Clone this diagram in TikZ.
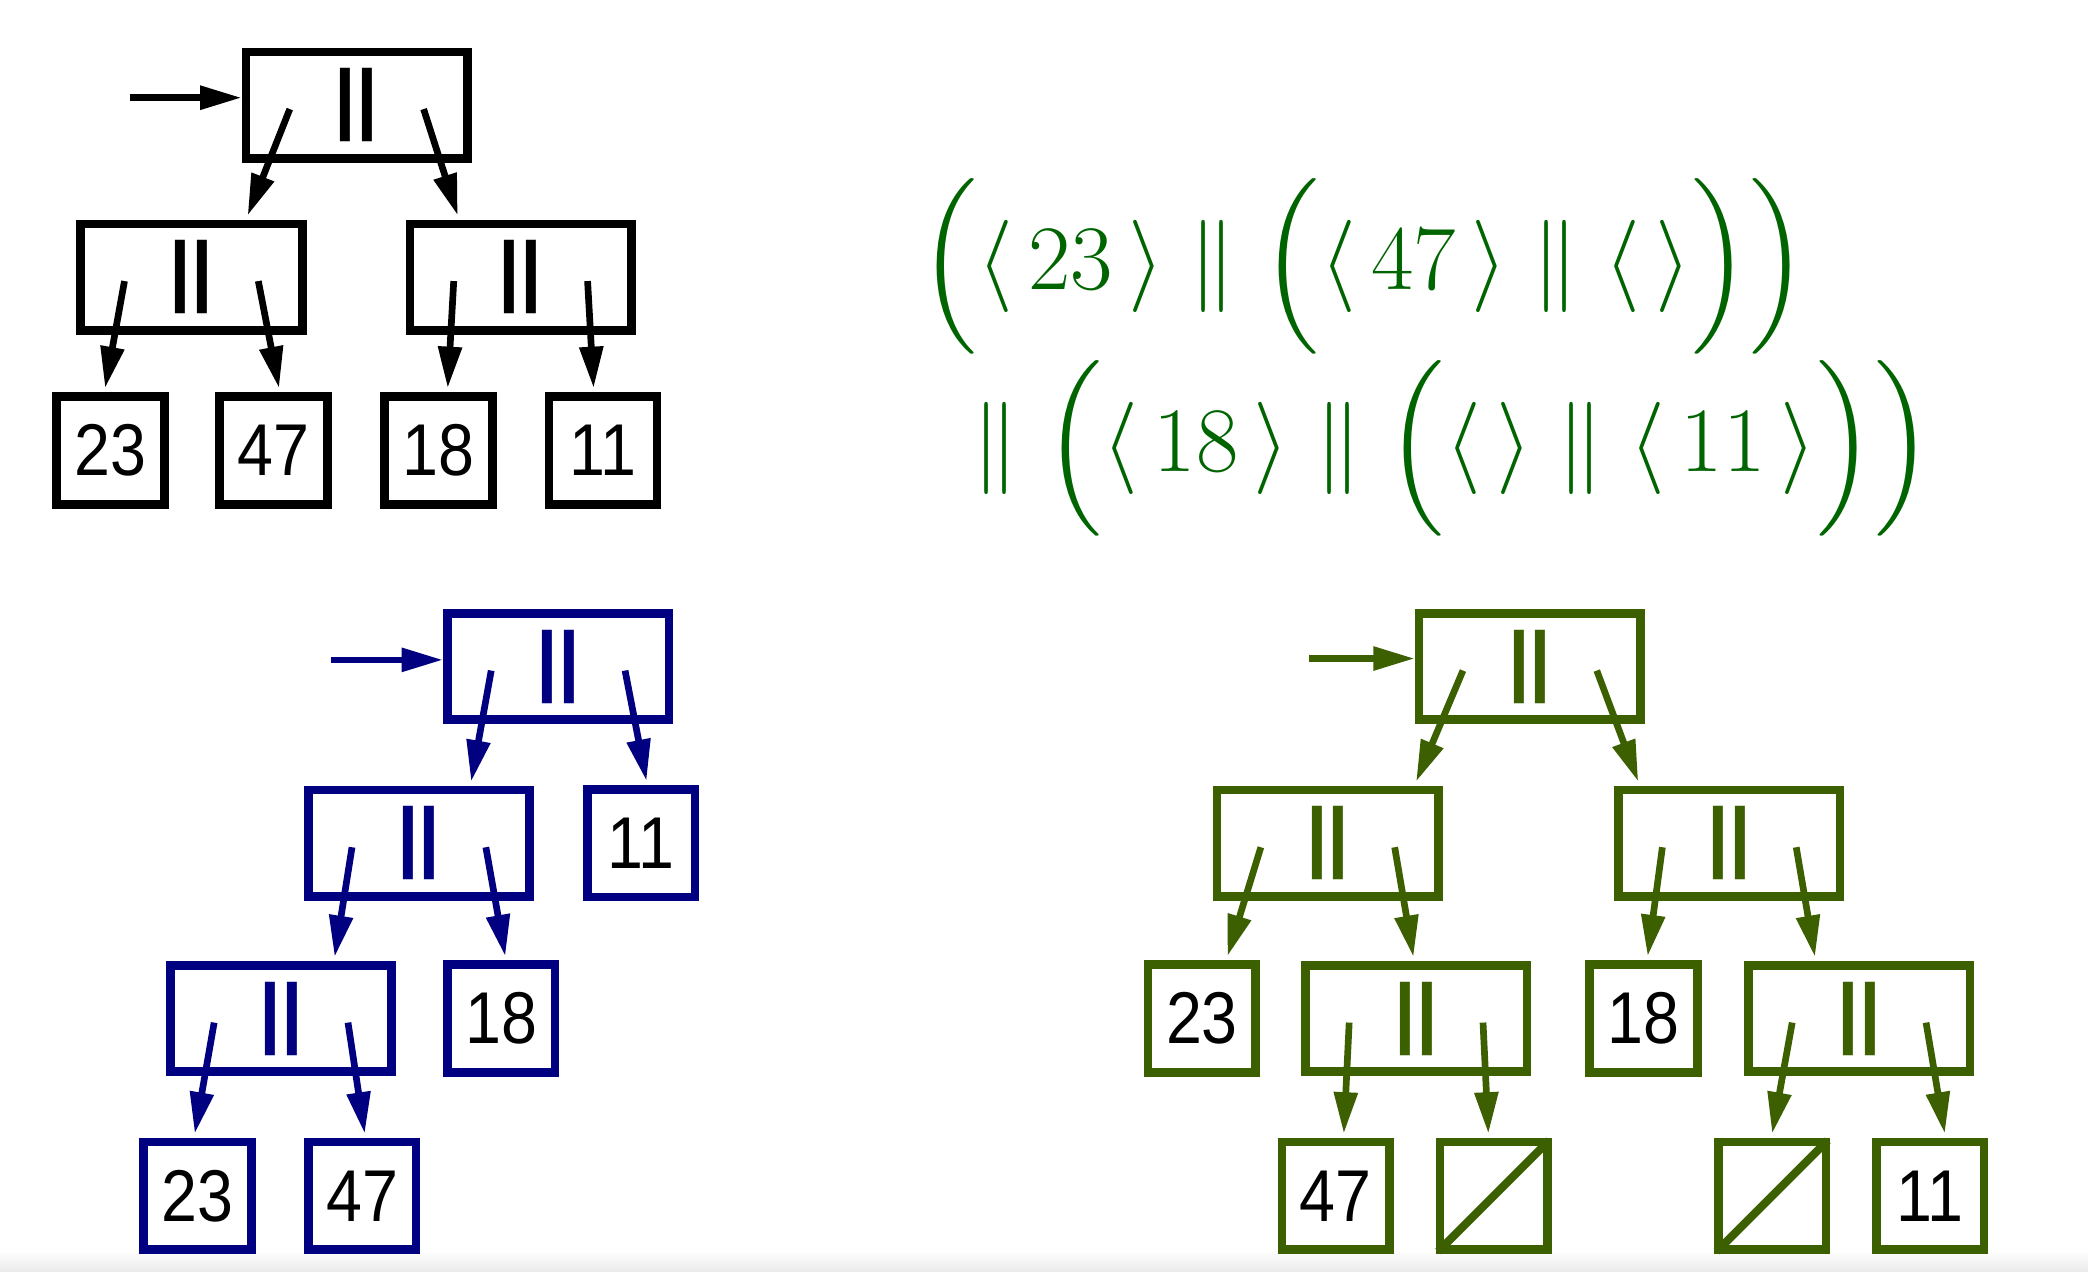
\documentclass[tikz,border=0pt]{standalone}
\usepackage{fix-cm}
\usepackage{amsmath}
\usepackage{fontspec}
\newfontfamily\boxfont[FakeStretch=0.88]{Liberation Sans}
\newfontfamily\barfont{Liberation Sans}
\usetikzlibrary{arrows.meta}
\definecolor{nblue}{RGB}{0,0,128}
\definecolor{ngreen}{RGB}{60,95,0}
\definecolor{fgreen}{RGB}{0,100,0}
\tikzset{
  catbox/.style={draw, line width=0.65mm, minimum width=16.55mm, minimum height=7.95mm,
    inner sep=0pt, font={\barfont\bfseries\fontsize{16.5}{18}\selectfont}},
  leafbox/.style={draw, line width=0.65mm, minimum width=8.05mm, minimum height=8.05mm,
    inner sep=0pt, text=black, font={\boxfont\fontsize{15.6}{18}\selectfont}},
  ptr/.style={line width=0.5mm, -{Triangle[length=3.1mm,width=1.7mm]}},
  formula/.style={fgreen, anchor=base west, inner sep=0pt,
    font={\fontsize{19.6}{24}\selectfont}},
}
\begin{document}
\begin{tikzpicture}[x=0.1mm,y=-0.1mm]
\fill[white] (0,0) rectangle (1560,950.3);
\shade[top color=white, bottom color=black!8] (0,934) rectangle (1560,950.3);

% the sequence as a balanced tree
\node[catbox] (kT) at (266.5,78.5) {||};
\node[catbox] (kL) at (143,207) {||};
\node[catbox] (kR) at (389,207) {||};
\foreach \n/\x in {23/82.5,47/204.5,18/327.5,11/450.5}
  \node[leafbox] (k\n) at (\x,336.5) {\n};
\coordinate (kin) at (97,73);
\draw[ptr] (kin) -- (kin -| kT.west);
\foreach \p/\c/\d in {kT/kL/42,kL/k23/-4,kR/k18/7}
  \draw[ptr] ([shift={(36,46)}]\p.north west) -- ([shift={(\d,-3)}]\c.north);
\foreach \p/\c/\d in {kT/kR/-47,kL/k47/4,kR/k11/-7}
  \draw[ptr] ([shift={(-36,46)}]\p.north east) -- ([shift={(\d,-3)}]\c.north);

% the same sequence, leaning left
\begin{scope}[nblue]
\node[catbox] (bT) at (417,498) {||};
\node[catbox] (bM) at (313,630) {||};
\node[catbox] (bL) at (210,761) {||};
\node[leafbox] (b11) at (479,630) {11};
\node[leafbox] (b18) at (374.5,761) {18};
\node[leafbox] (b23) at (147.5,893.5) {23};
\node[leafbox] (b47) at (270.5,893.5) {47};
\coordinate (bin) at (247,493);
\draw[ptr] (bin) -- (bin -| bT.west);
\foreach \p/\c/\d in {bT/bM/39,bM/bL/40,bL/b23/-2}
  \draw[ptr] ([shift={(36,46)}]\p.north west) -- ([shift={(\d,-3)}]\c.north);
\foreach \p/\c/\d in {bT/b11/4,bM/b18/3,bL/b47/2}
  \draw[ptr] ([shift={(-36,46)}]\p.north east) -- ([shift={(\d,-3)}]\c.north);
\end{scope}

% the formula
\node[formula] (f1) at (686,216)
  {$\Big(\langle\,23\,\rangle \parallel \Big(\langle\,47\,\rangle \parallel \langle\,\rangle\Big)\Big)$};
\node[formula] (f2) at (726,352)
  {$\parallel \Big(\langle\,18\,\rangle \parallel \Big(\langle\,\rangle \parallel \langle\,11\,\rangle\Big)\Big)$};

% the tree of the formula, with empty leaves
\begin{scope}[ngreen]
\node[catbox] (gT) at (1143,498) {||};
\node[catbox] (gL) at (992,630) {||};
\node[catbox] (gR) at (1292,630) {||};
\node[catbox] (gLR) at (1058,761) {||};
\node[catbox] (gRR) at (1389,761) {||};
\node[leafbox] (g23) at (898,761) {23};
\node[leafbox] (g18) at (1228,761) {18};
\node[leafbox] (g47) at (998,893.5) {47};
\node[leafbox] (ge1) at (1116,893.5) {};
\node[leafbox] (ge2) at (1324,893.5) {};
\node[leafbox] (g11) at (1442,893.5) {11};
\draw[line width=0.6mm] ([shift={(2,-2)}]ge1.south west) -- ([shift={(-2,2)}]ge1.north east);
\draw[line width=0.6mm] ([shift={(2,-2)}]ge2.south west) -- ([shift={(-2,2)}]ge2.north east);
\coordinate (gin) at (978,492);
\draw[ptr] (gin) -- (gin -| gT.west);
\foreach \p/\c/\d in {gT/gL/66,gL/g23/19,gR/g18/3,gLR/g47/6,gRR/ge2/0}
  \draw[ptr] ([shift={(36,46)}]\p.north west) -- ([shift={(\d,-3)}]\c.north);
\foreach \p/\c/\d in {gT/gR/-68,gL/gLR/-2,gR/gRR/-33,gLR/ge1/-4,gRR/g11/11}
  \draw[ptr] ([shift={(-36,46)}]\p.north east) -- ([shift={(\d,-3)}]\c.north);
\end{scope}
\end{tikzpicture}
\end{document}
